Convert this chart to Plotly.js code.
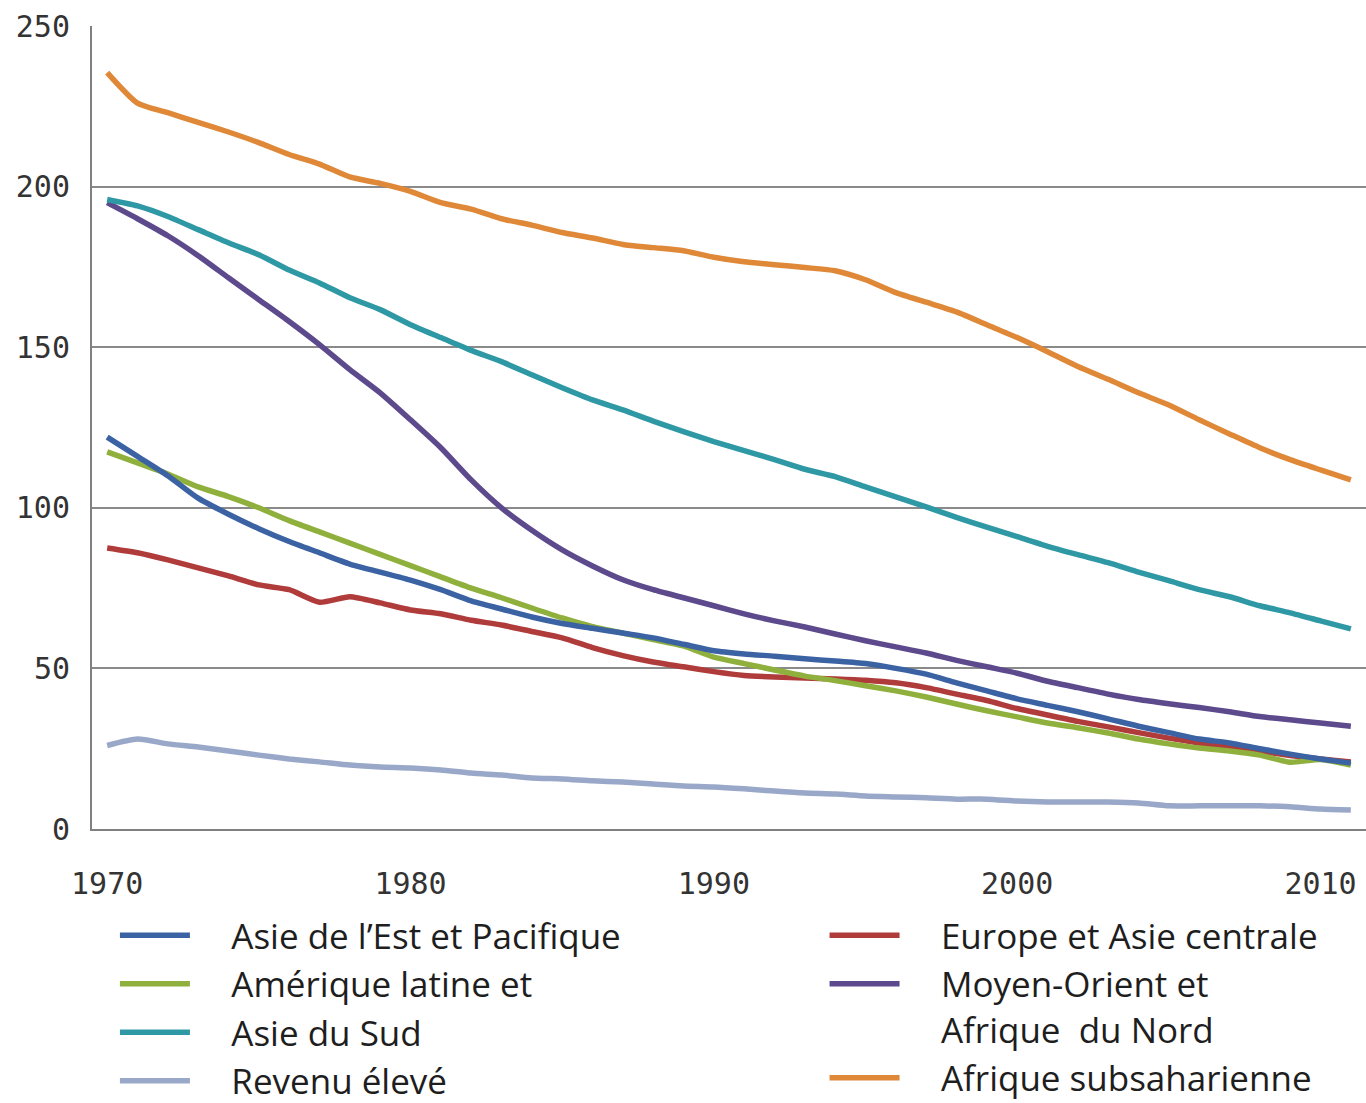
<!DOCTYPE html>
<html>
<head>
<meta charset="utf-8">
<script src="https://cdn.plot.ly/plotly-3.0.1.min.js"></script>
<style>
  html, body { margin: 0; padding: 0; background: #ffffff; }
  #chart { width: 1366px; height: 1103px; }
</style>
</head>
<body>
<div id="chart"></div>
<script>
// Years 1970-2011
const years = [1970,1971,1972,1973,1974,1975,1976,1977,1978,1979,
               1980,1981,1982,1983,1984,1985,1986,1987,1988,1989,
               1990,1991,1992,1993,1994,1995,1996,1997,1998,1999,
               2000,2001,2002,2003,2004,2005,2006,2007,2008,2009,
               2010,2011];

const xTickYears = [1970, 1980, 1990, 2000, 2010];
const xTickMarks = [1979.5, 1989.5, 1999.5, 2009.5];
const yTicks = [0, 50, 100, 150, 200, 250];

const asieEst = [122,116,110,103,98,93.5,89.5,86,82.5,80,
                 77.5,74.5,71,68.5,66,64,62.5,61,59.5,57.5,
                 55.5,54.5,53.8,53,52.3,51.5,50,48.2,45.5,43,
                 40.5,38.5,36.5,34.3,32,30,28,26.8,25,23.3,
                 21.8,20.5];

const ameriqueLatine = [117.4,114,110.5,106.5,103.5,100,96,92.5,89,85.5,
                        82,78.5,75,72,68.8,65.7,63,61,59,57,
                        53.5,51.5,49.5,47.6,46.2,44.6,43,41.1,38.9,36.8,
                        34.9,33,31.5,29.9,28,26.5,25.2,24.3,23,20.8,
                        21.6,19.9];

const asieSud = [196,194,190.7,186.6,182.5,178.8,174,170,165.4,161.7,
                 157,153,149,145.5,141.4,137.4,133.6,130.5,127,123.7,
                 120.6,117.8,115,112,109.7,106.5,103.4,100.3,97,94,
                 91,88,85.4,82.9,80,77.3,74.5,72.3,69.5,67.3,
                 64.8,62.3];

const revenuEleve = [26,28,26.5,25.5,24.3,23,21.8,20.9,19.9,19.3,
                     19,18.4,17.4,16.8,15.9,15.6,15,14.6,14,13.4,
                     13.1,12.5,11.8,11.2,10.9,10.3,10,9.7,9.3,9.3,
                     8.7,8.4,8.4,8.4,8.1,7.2,7.2,7.2,7.2,6.9,
                     6.2,5.9];

const europeAsieC = [87.5,86,83.8,81.3,78.8,76,74.5,70.6,72.3,70.4,
                     68.2,67,65,63.5,61.5,59.5,56.5,54,52,50.5,
                     49,47.8,47.3,47,46.7,46.3,45.5,44,42,40,
                     37.5,35.5,33.5,31.8,30,28.3,26.8,25.5,24.2,22.9,
                     21.8,20.9];

const moyenOrient = [195,190,184.7,178.5,171.6,164.8,158,150.8,143,135.8,
                     127.4,118.7,108.7,100,93,86.9,81.9,77.6,74.5,72,
                     69.5,67,64.8,62.9,60.7,58.6,56.7,54.8,52.5,50.5,
                     48.5,46,44,42,40.3,39,37.8,36.5,35,34,
                     33,32];

const afriqueSub = [235.5,226,223,220,217,213.7,210,207,203,201,
                    198.5,195,193,190,188,185.7,184,182,181,180,
                    178,176.6,175.7,174.8,173.8,171,167,164,161,157,
                    153,148.6,144,140,135.8,132,127.4,123,118.7,115,
                    111.8,108.7];

const seriesNames = [
  "Asie de l\u2019Est et Pacifique",
  "Amérique latine et",
  "Asie du Sud",
  "Revenu élevé",
  "Europe et Asie centrale",
  "Moyen-Orient et<br>Afrique  du Nord",
  "Afrique subsaharienne"
];
const seriesData = [asieEst, ameriqueLatine, asieSud, revenuEleve, europeAsieC, moyenOrient, afriqueSub];
const seriesColors = ["#3b62a3", "#8fb03c", "#2f98a5", "#99a8c8", "#b03b3b", "#5c4a8c", "#df8838"];
const seriesLegend = ["legend", "legend", "legend", "legend", "legend2", "legend2", "legend2"];

// drawing order: later traces on top
const drawOrder = [3, 5, 2, 6, 4, 1, 0];
const legendRank = [1, 2, 3, 4, 1, 2, 3];

// gap between legend line sample and its text
const pad = "\u00a0\u00a0\u00a0\u00a0";
const legendLabel = name => name.split("<br>").map(s => pad + s.replace(/  /g, " \u00a0")).join("<br>");

const traces = drawOrder.map(i => ({
  type: "scatter",
  mode: "lines",
  x: years,
  y: seriesData[i],
  name: legendLabel(seriesNames[i]),
  legend: seriesLegend[i],
  legendrank: legendRank[i],
  line: { color: seriesColors[i], width: 5.5, shape: "spline", smoothing: 0.6 },
  hoverinfo: "x+y+name"
}));

const tickFont = { family: "DejaVu Sans Mono, monospace", size: 30, color: "#333333" };
const legendFont = { family: "Open Sans, sans-serif", size: 35, color: "#1e1e1e" };

const layout = {
  width: 1366,
  height: 1103,
  paper_bgcolor: "#ffffff",
  plot_bgcolor: "#ffffff",
  margin: { l: 92, r: 0, t: 26, b: 274 },
  showlegend: true,
  xaxis: {
    range: [1969.5, 2011.5],
    tickvals: xTickYears,
    ticktext: xTickYears.map(String),
    ticks: "",
    showgrid: false,
    zeroline: false,
    showline: true,
    linecolor: "#808080",
    linewidth: 2,
    tickfont: tickFont,
    ticklabelstandoff: 27,
    automargin: false
  },
  xaxis2: {
    overlaying: "x",
    range: [1969.5, 2011.5],
    tickvals: xTickMarks,
    ticks: "inside",
    ticklen: 9,
    tickwidth: 1.5,
    tickcolor: "#555555",
    showticklabels: false,
    showgrid: false,
    zeroline: false,
    showline: false,
    side: "bottom"
  },
  yaxis: {
    range: [0, 250],
    tickvals: yTicks,
    ticks: "",
    showgrid: true,
    gridcolor: "#8a8a8a",
    gridwidth: 2,
    zeroline: false,
    showline: true,
    linecolor: "#808080",
    linewidth: 2,
    tickfont: tickFont,
    ticklabelstandoff: 14,
    automargin: false
  },
  legend: {
    x: 0.018, xanchor: "left",
    yref: "container",
    y: 0.1786, yanchor: "top",
    orientation: "v",
    font: legendFont,
    bgcolor: "rgba(0,0,0,0)",
    itemwidth: 70,
    traceorder: "normal",
    tracegroupgap: 0,
    valign: "top"
  },
  legend2: {
    x: 0.575, xanchor: "left",
    yref: "container",
    y: 0.1786, yanchor: "top",
    orientation: "v",
    font: legendFont,
    bgcolor: "rgba(0,0,0,0)",
    itemwidth: 70,
    traceorder: "normal",
    tracegroupgap: 0,
    valign: "top"
  }
};

Plotly.newPlot("chart", traces, layout, { displayModeBar: false, staticPlot: true });
</script>
</body>
</html>
